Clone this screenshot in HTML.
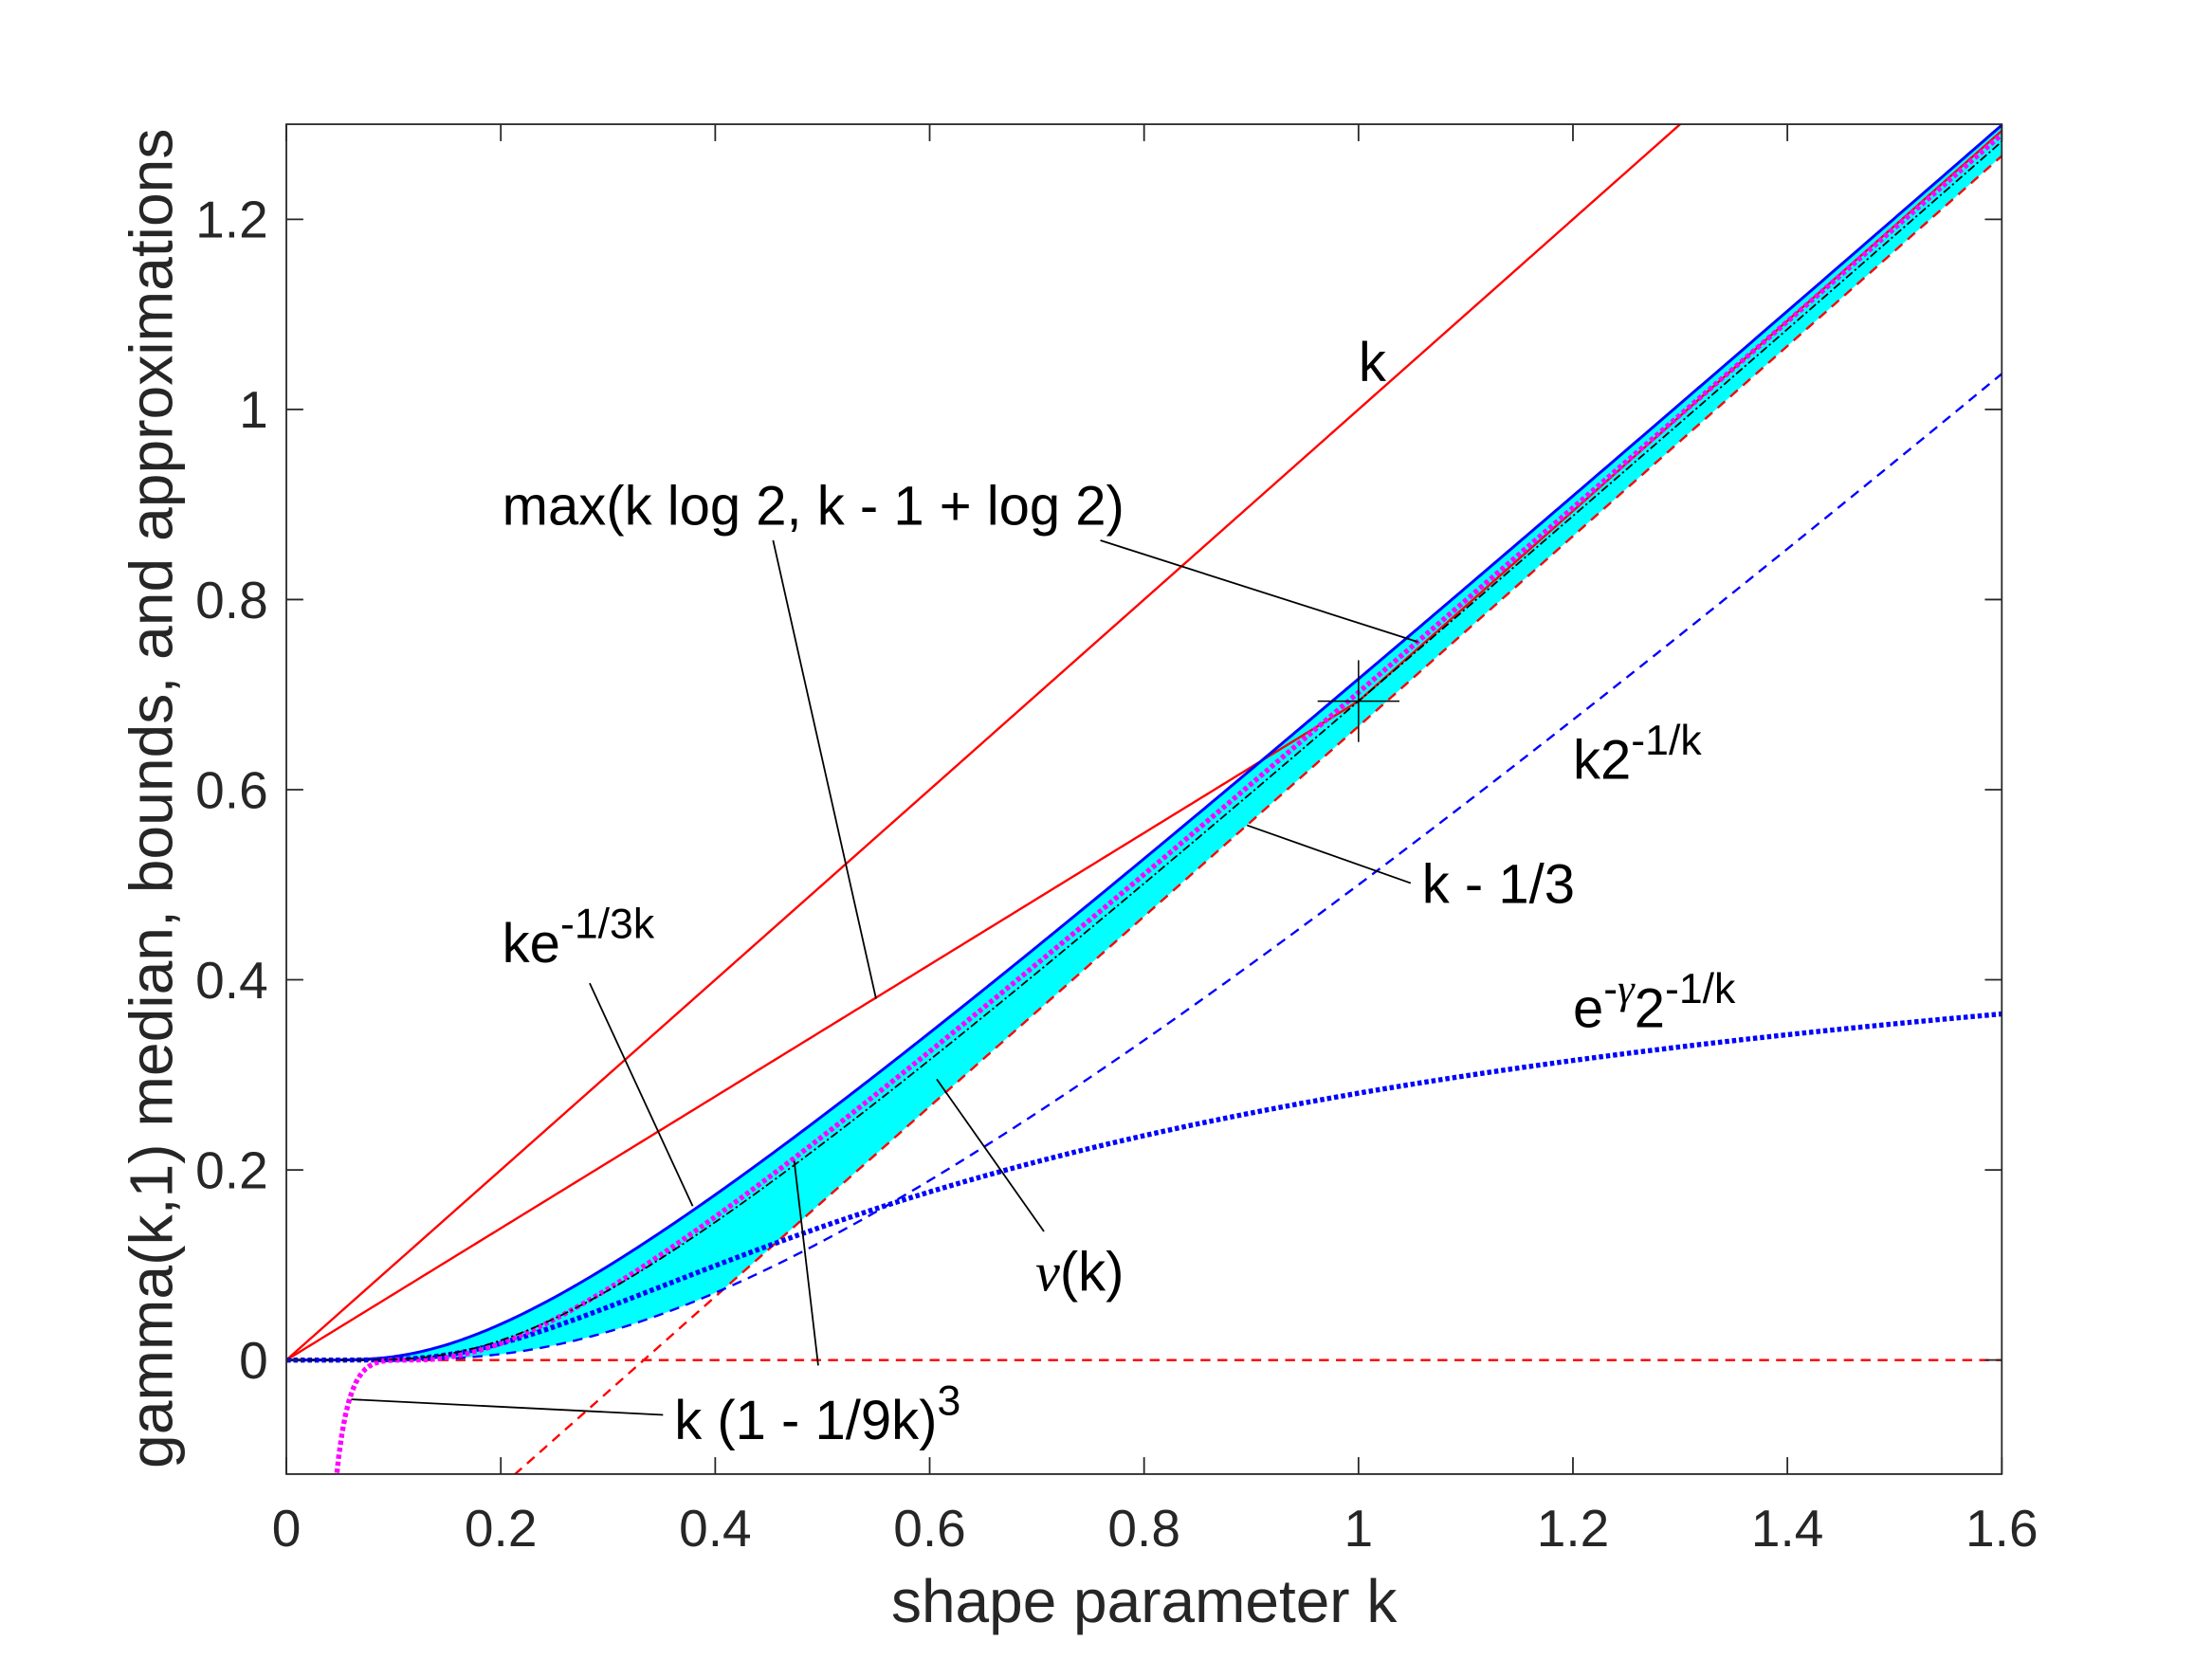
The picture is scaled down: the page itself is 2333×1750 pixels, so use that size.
<!DOCTYPE html>
<html><head><meta charset="utf-8">
<style>
html,body{margin:0;padding:0;background:#fff;overflow:hidden;width:2333px;height:1750px;}
svg{display:block;}
text{font-family:"Liberation Sans",Arial,sans-serif;}
</style></head>
<body>
<svg id="s" width="2333" height="1750" viewBox="0 0 1568 1176" xmlns="http://www.w3.org/2000/svg">
<defs><clipPath id="c"><rect x="203" y="88" width="1216" height="957"/></clipPath></defs>
<rect width="1568" height="1176" fill="#fff"/>
<g id="plot" clip-path="url(#c)"></g>
<g id="ax"></g>
<g font-size="39" fill="#000">
<text x="963" y="270">k</text>
<text x="356" y="372">max(k log 2, k - 1 + log 2)</text>
<text x="1115" y="552">k2<tspan font-size="30" dy="-17">-1/k</tspan></text>
<text x="1008" y="640">k - 1/3</text>
<text x="356" y="682">ke<tspan font-size="30" dy="-17">-1/3k</tspan></text>
<text x="1115" y="728">e<tspan font-size="30" dy="-17">-</tspan><tspan font-size="30" font-family="Liberation Serif,serif" font-style="italic">γ</tspan><tspan dy="17">2</tspan><tspan font-size="30" dy="-17">-1/k</tspan></text>
<text x="734" y="915"><tspan font-family="Liberation Serif,serif" font-style="italic">ν</tspan>(k)</text>
<text x="478" y="1020">k (1 - 1/9k)<tspan font-size="30" dy="-17">3</tspan></text>
</g>
<g stroke="#000" stroke-width="1.2" fill="none">
<line x1="548" y1="383" x2="621" y2="708"/>
<line x1="780" y1="383" x2="1005" y2="455"/>
<line x1="1000" y1="626" x2="884" y2="585"/>
<line x1="418" y1="697" x2="491" y2="855"/>
<line x1="740" y1="873" x2="664" y2="765"/>
<line x1="470" y1="1003" x2="249" y2="992"/>
<line x1="580" y1="968" x2="563" y2="823"/>
</g>
<text x="811" y="1150" font-size="43" text-anchor="middle" fill="#262626">shape parameter k</text>
<text transform="translate(122,566) rotate(-90)" font-size="43" text-anchor="middle" fill="#262626" textLength="950" lengthAdjust="spacingAndGlyphs">gamma(k,1) median, bounds, and approximations</text>
</svg>
<script>
var X0=203,X1=1419,Y0=1045,Y1=88,xmin=0,xmax=1.6,ymin=-0.12,ymax=1.3;
function px(k){return X0+(k-xmin)/(xmax-xmin)*(X1-X0);}
function py(v){return Y0-(v-ymin)/(ymax-ymin)*(Y0-Y1);}
var NS="http://www.w3.org/2000/svg";
var plot=document.getElementById('plot'),ax=document.getElementById('ax');
function el(p,tag,a){var e=document.createElementNS(NS,tag);for(var k in a)e.setAttribute(k,a[k]);p.appendChild(e);return e;}
function lgam(x){var g=7,c=[0.99999999999980993,676.5203681218851,-1259.1392167224028,771.32342877765313,-176.61502916214059,12.507343278686905,-0.13857109526572012,9.9843695780195716e-6,1.5056327351493116e-7];
 if(x<0.5)return Math.log(Math.PI/Math.sin(Math.PI*x))-lgam(1-x);x-=1;var a=c[0],t=x+g+0.5;for(var i=1;i<9;i++)a+=c[i]/(x+i);return 0.5*Math.log(2*Math.PI)+(x+0.5)*Math.log(t)-t+Math.log(a);}
function P(a,x){if(x<=0)return 0;var sum=1,term=1;for(var n=1;n<500;n++){term*=x/(a+n);sum+=term;if(term<1e-15*sum)break;}
 return Math.exp(a*Math.log(x)-x-lgam(a+1))*sum;}
function med(k){var lo=0,hi=k+2;for(var i=0;i<80;i++){var m=(lo+hi)/2;if(P(k,m)<0.5)lo=m;else hi=m;}return (lo+hi)/2;}
var G=0.5772156649;
function pts(f,a,b,n){var s=[];for(var i=0;i<=n;i++){var k=a+(b-a)*i/n;var v=f(k);if(!isFinite(v))continue;if(v<-1)v=-1;s.push([px(k),py(v)]);}return s;}
function d(s){return 'M'+s.map(function(p){return p[0].toFixed(2)+','+p[1].toFixed(2);}).join('L');}
var e=1e-4;
function up(k){return k*Math.exp(-1/(3*k));}
function lowb(k){return Math.max(k-1/3,k*Math.pow(2,-1/k));}
var U=pts(up,e,1.6,400),L=pts(lowb,e,1.6,400).reverse();
el(plot,'path',{d:d(U.concat(L))+'Z',fill:'#00ffff',stroke:'none'});
function line(f,a,b,st,w,da){var o={d:d(pts(f,a,b,500)),fill:'none',stroke:st,'stroke-width':w};if(da)o['stroke-dasharray']=da;el(plot,'path',o);}
line(function(k){return k;},0,1.6,'#ff0000',1.6);
line(function(k){return Math.max(k*Math.LN2,k-1+Math.LN2);},0,1.6,'#ff0000',1.6);
line(function(k){return 0;},0,1.6,'#ff0000',1.6,'7,5');
line(function(k){return k-1/3;},0,1.6,'#ff0000',1.6,'7,5');
line(function(k){return k*Math.pow(2,-1/k);},e,1.6,'#0000ff',1.6,'7,5');
line(up,e,1.6,'#0000ff',2);
line(function(k){return Math.exp(-G)*Math.pow(2,-1/k);},e,1.6,'#0000ff',3.6,'3,2');
line(function(k){var t=1-1/(9*k);return k*t*t*t;},0.03,1.6,'#ff00ff',3.6,'3,2');
line(med,0.005,1.6,'#000000',1.2,'6,2,1.5,2');
var cx=px(1),cy=py(Math.LN2);
el(plot,'line',{x1:cx-29,y1:cy,x2:cx+29,y2:cy,stroke:'#000','stroke-width':1});
el(plot,'line',{x1:cx,y1:cy-29,x2:cx,y2:cy+29,stroke:'#000','stroke-width':1});
el(ax,'rect',{x:X0,y:Y1,width:X1-X0,height:Y0-Y1,fill:'none',stroke:'#262626','stroke-width':1.2});
var xt=[0,0.2,0.4,0.6,0.8,1,1.2,1.4,1.6];
xt.forEach(function(t){var x=px(t);el(ax,'line',{x1:x,y1:Y0,x2:x,y2:Y0-12,stroke:'#262626','stroke-width':1.2});el(ax,'line',{x1:x,y1:Y1,x2:x,y2:Y1+12,stroke:'#262626','stroke-width':1.2});
 var tx=el(ax,'text',{x:x,y:1096,'font-size':37,'text-anchor':'middle',fill:'#262626'});tx.textContent=String(t);});
[0,0.2,0.4,0.6,0.8,1,1.2].forEach(function(t){var y=py(t);el(ax,'line',{x1:X0,y1:y,x2:X0+12,y2:y,stroke:'#262626','stroke-width':1.2});el(ax,'line',{x1:X1,y1:y,x2:X1-12,y2:y,stroke:'#262626','stroke-width':1.2});
 var tx=el(ax,'text',{x:190,y:y+13,'font-size':37,'text-anchor':'end',fill:'#262626'});tx.textContent=String(t);});
</script>
</body></html>
